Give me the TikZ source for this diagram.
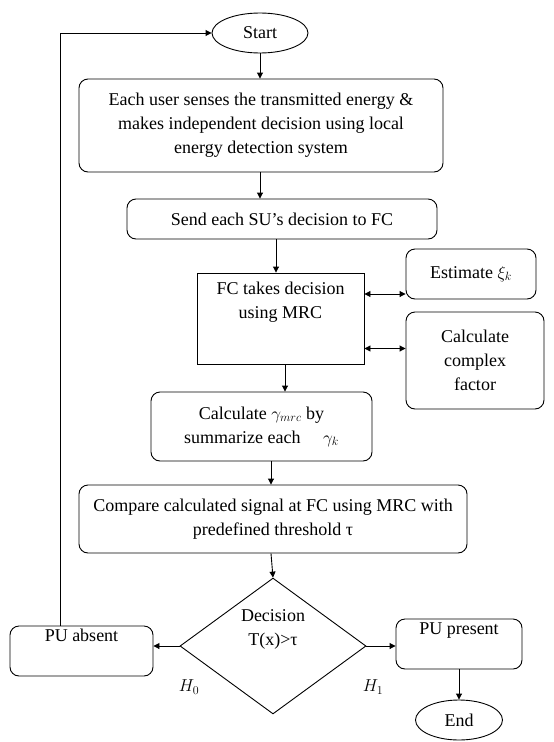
\documentclass[tikz,border=0pt]{standalone}
\usepackage{fontspec}
\setmainfont{Liberation Serif}
\usetikzlibrary{shapes.geometric,arrows.meta}
\begin{document}
\begin{tikzpicture}[x=1pt,y=-1pt,
  font=\fontsize{18}{24}\selectfont,
  rbox/.style={draw,rounded corners=9pt,line width=0.9pt,align=center,inner sep=0pt,anchor=center},
  sbox/.style={draw,line width=0.9pt,align=center,inner sep=0pt,anchor=center},
  oval/.style={draw,ellipse,line width=0.9pt,inner sep=0pt,anchor=center},
  arr/.style={line width=0.9pt,-{Triangle[width=6pt,length=6pt]}},
  darr/.style={line width=0.9pt,{Triangle[width=6pt,length=6pt]}-{Triangle[width=6pt,length=6pt]}}]
\useasboundingbox (0,0) rectangle (554,742);
\node[oval,minimum width=96,minimum height=40] (start) at (260,33) {Start};
\node[rbox,minimum width=364,minimum height=93] (b1) at (261,125.5) {Each user senses the transmitted energy \&\\makes independent decision using local\\energy detection system};
\node[rbox,minimum width=310,minimum height=40] (b2) at (282,219) {Send each SU’s decision to FC};
\node[sbox,minimum width=167,minimum height=91,label={[anchor=north,yshift=-6pt,align=center]north:FC takes decision\\using MRC}] (fc) at (280.5,318.5) {};
\node[rbox,minimum width=130,minimum height=50] (est) at (471,274) {Estimate $\xi_k$};
\node[rbox,minimum width=138,minimum height=97] (cf) at (475,360.5) {Calculate\\complex\\factor};
\node[rbox,minimum width=221,minimum height=69] (calc) at (261.5,426.5) {Calculate $\gamma_{mrc}$ by\\summarize each \quad $\gamma_k$};
\node[rbox,minimum width=388,minimum height=68] (cmp) at (273,519) {Compare calculated signal at FC using MRC with\\predefined threshold τ};
\node[draw,diamond,line width=0.9pt,minimum width=186,minimum height=134,inner sep=0pt,align=center] (dec) at (273,646) {Decision\\T(x)>τ\\[12pt]};
\node[rbox,minimum width=143,minimum height=50] (pua) at (81.5,651) {PU absent\\[8pt]};
\node[rbox,minimum width=126,minimum height=50] (pup) at (459,644) {PU present\\[6pt]};
\node[oval,minimum width=87,minimum height=40] (end) at (459,720) {End};
\node (h0) at (189,687) {$H_0$};
\node (h1) at (373,687) {$H_1$};
\draw[arr] (start.south) -- (start.south |- b1.north);
\draw[arr] (start.south |- b1.south) -- (start.south |- b2.north);
\draw[arr] ([xshift=-6pt]b2.south) -- ([xshift=-6pt]b2.south |- fc.north);
\draw[darr] ([yshift=-30pt]fc.east) -- ([yshift=-30pt]fc.east -| est.west);
\draw[darr] ([yshift=24.5pt]fc.east) -- ([yshift=24.5pt]fc.east -| cf.west);
\draw[arr] ([xshift=4.5pt]fc.south) -- ([xshift=4.5pt]fc.south |- calc.north);
\draw[arr] ([xshift=9.5pt]calc.south) -- ([xshift=9.5pt]calc.south |- cmp.north);
\draw[arr] ([xshift=-2pt]cmp.south) -- (dec.north);
\draw[arr] (dec.west) -- (dec.west -| pua.east);
\draw[arr] (dec.east) -- (dec.east -| pup.west);
\draw[arr] (pup.south) -- (end.north);
\draw[arr] ([xshift=-21.5pt]pua.north) |- (start.west);
\end{tikzpicture}
\end{document}
